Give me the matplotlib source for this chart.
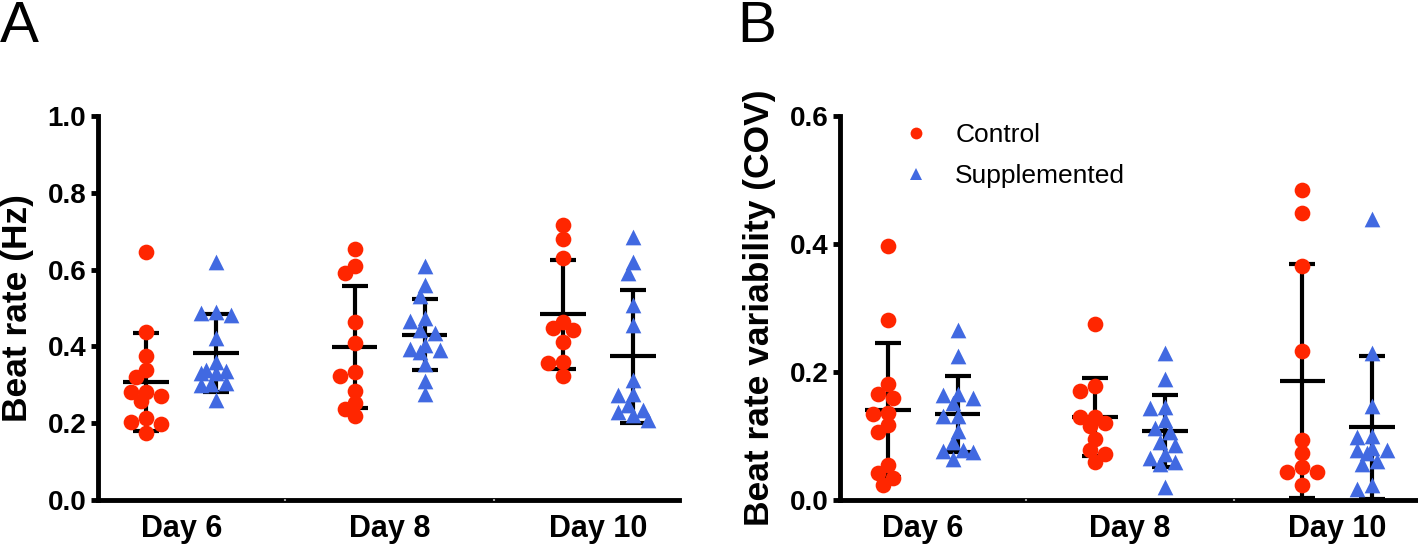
"""
Beat rate and beat rate variability, Control vs Supplemented
"""
import numpy as np
import matplotlib
matplotlib.use('Agg')
import matplotlib.pyplot as plt
from matplotlib.lines import Line2D

plt.rcParams['font.family'] = ['Liberation Sans', 'DejaVu Sans']

# categories
days = ['Day 6', 'Day 8', 'Day 10']

# Panel A - beat rate (Hz)
rate_ctrl_d6 = [0.647, 0.438, 0.376, 0.339, 0.321, 0.282, 0.272, 0.280, 0.258, 0.214, 0.198, 0.202, 0.174]
rate_supp_d6 = [0.621, 0.482, 0.489, 0.486, 0.421, 0.360, 0.330, 0.339, 0.330, 0.335, 0.304, 0.302, 0.299, 0.260]
rate_ctrl_d8 = [0.654, 0.610, 0.592, 0.464, 0.408, 0.323, 0.334, 0.285, 0.253, 0.236, 0.219]
rate_supp_d8 = [0.609, 0.560, 0.532, 0.467, 0.473, 0.444, 0.434, 0.404, 0.393, 0.386, 0.391, 0.354, 0.311, 0.275]
rate_ctrl_d10 = [0.716, 0.679, 0.631, 0.464, 0.447, 0.444, 0.412, 0.360, 0.356, 0.323]
rate_supp_d10 = [0.686, 0.619, 0.590, 0.508, 0.456, 0.313, 0.276, 0.273, 0.247, 0.221, 0.228, 0.234, 0.208]

# Panel B - beat rate variability (COV)
cov_ctrl_d6 = [0.397, 0.281, 0.182, 0.166, 0.159, 0.136, 0.134, 0.117, 0.107, 0.055, 0.042, 0.034, 0.023]
cov_supp_d6 = [0.266, 0.225, 0.159, 0.152, 0.166, 0.164, 0.131, 0.131, 0.108, 0.091, 0.078, 0.075, 0.077, 0.064]
cov_ctrl_d8 = [0.275, 0.178, 0.171, 0.129, 0.130, 0.120, 0.116, 0.096, 0.078, 0.072, 0.060]
cov_supp_d8 = [0.230, 0.189, 0.143, 0.145, 0.125, 0.112, 0.107, 0.086, 0.091, 0.072, 0.065, 0.056, 0.060, 0.020]
cov_ctrl_d10 = [0.484, 0.449, 0.366, 0.233, 0.093, 0.074, 0.051, 0.043, 0.043, 0.023]
cov_supp_d10 = [0.439, 0.230, 0.147, 0.100, 0.099, 0.078, 0.078, 0.081, 0.073, 0.061, 0.056, 0.023, 0.017]

RED = '#FF2600'
BLUE = '#4169E1'
MS = 11.3          # marker size (pt)
W, H = 1418, 554

fig = plt.figure(figsize=(W / 100, H / 100), dpi=100)
axA = fig.add_axes([98 / W, 54 / H, 581 / W, 384 / H])
axB = fig.add_axes([840 / W, 54 / H, 578 / W, 384 / H])


def swarm_offsets(ax, vals, diam_px, step_px=5.0, max_px=16.0):
    # compact beeswarm: smallest free offset within +-max_px, else least crowded slot
    t = ax.transData
    x_scale = t.transform((1, 0))[0] - t.transform((0, 0))[0]
    y_scale = t.transform((0, 1))[1] - t.transform((0, 0))[1]
    n = int(max_px // step_px)
    cands = sorted([k * step_px for k in range(-n, n + 1)], key=lambda c: (abs(c), c))
    placed = []
    offs = np.zeros(len(vals))
    for i in np.argsort(-np.asarray(vals)):
        y = vals[i] * y_scale
        best, best_d = cands[0], -1.0
        for c in cands:
            d = min([np.hypot(c - px, y - py) for px, py in placed], default=1e9)
            if d >= 0.75 * diam_px:
                best = c
                break
            if d > best_d:
                best, best_d = c, d
        placed.append((best, y))
        offs[i] = best / x_scale
    return offs


def draw_panel(ax, ctrl, supp, ymax, ylabel):
    ax.set_xlim(-0.40, 2.39)
    ax.set_ylim(0, ymax)
    diam_px = MS * 100 / 72
    for i, (c, s) in enumerate(zip(ctrl, supp)):
        for vals, dx, color, marker in [(c, -0.168, RED, 'o'), (s, 0.168, BLUE, '^')]:
            vals = np.asarray(vals)
            m, sd = vals.mean(), vals.std(ddof=1)
            x0 = i + dx
            ax.errorbar(x0, m, yerr=sd, fmt='none', ecolor='black', elinewidth=3,
                        capsize=9.5, capthick=3, zorder=2)
            ax.plot([x0 - 0.11, x0 + 0.11], [m, m], color='black', lw=3,
                    solid_capstyle='butt', zorder=2)
            offs = swarm_offsets(ax, vals, diam_px)
            ax.scatter(x0 + offs, vals, s=MS ** 2, marker=marker, color=color,
                       linewidths=0, zorder=3, clip_on=False)

    for side in ['top', 'right']:
        ax.spines[side].set_visible(False)
    for side in ['left', 'bottom']:
        ax.spines[side].set_linewidth(3.5)
    ax.set_axisbelow(False)

    yt = np.arange(0, ymax + 0.001, 0.2)
    ax.set_yticks(yt, labels=[f'{v:.1f}' for v in yt], fontsize=20, fontweight='bold')
    ax.set_xticks(range(len(days)), labels=days, fontsize=22, fontweight='bold')
    ax.set_xticks([0.5, 1.5], minor=True)
    ax.tick_params(axis='x', which='major', length=0, pad=10)
    ax.tick_params(axis='x', which='minor', direction='inout', length=2,
                   width=1.5, color='#a0a0a0')
    ax.tick_params(axis='y', length=5, width=3.5, pad=3.5)
    ax.set_ylabel(ylabel, fontsize=25.5, fontweight='bold')


draw_panel(axA,
           [rate_ctrl_d6, rate_ctrl_d8, rate_ctrl_d10],
           [rate_supp_d6, rate_supp_d8, rate_supp_d10],
           1.0, 'Beat rate (Hz)')
draw_panel(axB,
           [cov_ctrl_d6, cov_ctrl_d8, cov_ctrl_d10],
           [cov_supp_d6, cov_supp_d8, cov_supp_d10],
           0.6, 'Beat rate variability (COV)')
axA.yaxis.set_label_coords(-0.11, 0.5)
axB.yaxis.set_label_coords(-0.11, 0.5)

handles = [
    Line2D([], [], marker='o', ls='none', color=RED, markersize=8.5, markeredgewidth=0),
    Line2D([], [], marker='^', ls='none', color=BLUE, markersize=8.5, markeredgewidth=0),
]
fig.legend(handles, ['Control', 'Supplemented'], loc='upper left',
           bbox_to_anchor=(876 / W, 1 - 110 / H), frameon=False, fontsize=19,
           borderpad=0, handletextpad=0.5, labelspacing=0.65)

fig.text(0 / W, 1 - 42 / H, 'A', fontsize=42, va='baseline', ha='left')
fig.text(737 / W, 1 - 42 / H, 'B', fontsize=42, va='baseline', ha='left')

fig.savefig('out.png', dpi=100)
print("[OK] saved out.png")
